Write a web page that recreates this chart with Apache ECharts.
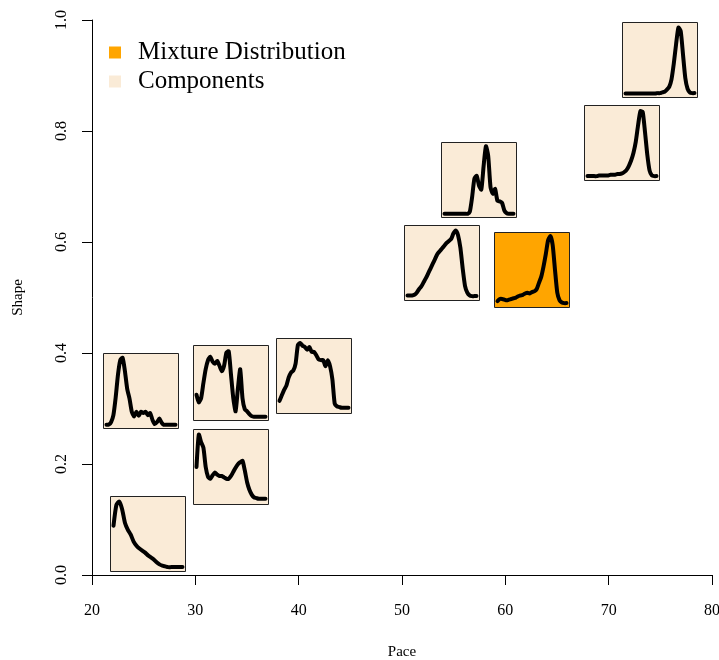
<!DOCTYPE html>
<html>
<head>
<meta charset="utf-8">
<script src="https://cdn.jsdelivr.net/npm/echarts@6/dist/echarts.min.js"></script>
<style>
    html, body { margin: 0; padding: 0; background: #fff; }
    #chart { width: 719px; height: 660px; }
</style>
</head>
<body>
<div id="chart"></div>
<script>
// box centres (Pace, Shape)
let boxPace  = [24.65, 25.39, 33.38, 33.38, 41.41, 57.39, 53.78, 62.51, 71.26, 74.89];
let boxShape = [0.332, 0.075, 0.346, 0.196, 0.359, 0.712, 0.563, 0.550, 0.780, 0.929];
// 1 = mixture distribution, 0 = component
let boxKind  = [0, 0, 0, 0, 0, 0, 0, 1, 0, 0];

// density curves drawn inside each box (scaled 0..1, evenly spaced)
let curveA = [0.01, 0.014, 0.05, 0.15, 0.41, 0.74, 0.95, 0.98, 0.79, 0.53, 0.39, 0.20, 0.13, 0.20, 0.14, 0.20,
    0.18, 0.20, 0.15, 0.18, 0.08, 0.02, 0.05, 0.10, 0.04, 0.01, 0.01, 0.01, 0.01, 0.01, 0.01];
let curveB = [0.62, 0.92, 0.97, 0.86, 0.66, 0.56, 0.49, 0.39, 0.33, 0.29, 0.26, 0.23, 0.19, 0.16, 0.13, 0.09,
    0.06, 0.04, 0.03, 0.02, 0.02, 0.02, 0.02, 0.02, 0.02];
let curveC = [0.33, 0.22, 0.28, 0.50, 0.70, 0.83, 0.88, 0.81, 0.78, 0.82, 0.75, 0.67, 0.75, 0.94, 0.96, 0.62,
    0.28, 0.09, 0.42, 0.70, 0.28, 0.12, 0.09, 0.05, 0.02, 0.01, 0.01, 0.01, 0.01, 0.01, 0.01];
let curveD = [0.50, 0.97, 0.86, 0.78, 0.50, 0.36, 0.33, 0.38, 0.42, 0.39, 0.37, 0.37, 0.35, 0.33, 0.33, 0.37,
    0.43, 0.49, 0.54, 0.57, 0.59, 0.45, 0.28, 0.17, 0.10, 0.06, 0.05, 0.04, 0.04, 0.04, 0.04];
let curveE = [0.14, 0.22, 0.30, 0.36, 0.48, 0.55, 0.58, 0.68, 0.95, 0.98, 0.94, 0.92, 0.88, 0.92, 0.85, 0.85,
    0.80, 0.74, 0.73, 0.73, 0.64, 0.73, 0.64, 0.45, 0.10, 0.06, 0.05, 0.04, 0.04, 0.04, 0.04];
let curveF = [0.01, 0.01, 0.01, 0.01, 0.01, 0.01, 0.01, 0.01, 0.01, 0.01, 0.01, 0.04, 0.25, 0.52, 0.56, 0.42,
    0.36, 0.70, 0.99, 0.85, 0.40, 0.30, 0.37, 0.20, 0.19, 0.17, 0.06, 0.02, 0.01, 0.01, 0.01];
let curveG = [0.03, 0.03, 0.03, 0.04, 0.07, 0.12, 0.16, 0.22, 0.28, 0.35, 0.42, 0.49, 0.56, 0.63, 0.67, 0.71,
    0.75, 0.79, 0.82, 0.85, 0.93, 0.97, 0.90, 0.72, 0.42, 0.17, 0.07, 0.03, 0.02, 0.02, 0.02];
let curveH = [0.05, 0.08, 0.08, 0.07, 0.06, 0.07, 0.08, 0.09, 0.10, 0.12, 0.13, 0.14, 0.16, 0.17, 0.16, 0.18,
    0.19, 0.22, 0.31, 0.40, 0.55, 0.73, 0.93, 0.99, 0.86, 0.50, 0.17, 0.06, 0.03, 0.02, 0.02];
let curveI = [0.02, 0.02, 0.02, 0.02, 0.02, 0.03, 0.03, 0.03, 0.03, 0.03, 0.04, 0.04, 0.04, 0.05, 0.05, 0.06,
    0.08, 0.11, 0.17, 0.25, 0.36, 0.52, 0.76, 0.96, 0.95, 0.66, 0.33, 0.10, 0.03, 0.02, 0.02];
let curveJ = [0.015, 0.015, 0.015, 0.015, 0.015, 0.015, 0.015, 0.015, 0.015, 0.015, 0.015, 0.015, 0.015, 0.015,
    0.02, 0.02, 0.03, 0.04, 0.07, 0.11, 0.22, 0.45, 0.73, 0.97, 0.92, 0.58, 0.24, 0.08, 0.03, 0.02, 0.02];
let curves = [curveA, curveB, curveC, curveD, curveE, curveF, curveG, curveH, curveI, curveJ];

let xTicks = [20, 30, 40, 50, 60, 70, 80];
let yTicks = [0.0, 0.2, 0.4, 0.6, 0.8, 1.0];

let seriesNames = ['Mixture Distribution', 'Components'];
let seriesColors = ['#FFA500', '#FAEBD7'];

let FONT = "'Liberation Serif', 'Times New Roman', serif";
let BOX = 75;   // box size in px
let PAD = 3;    // inner padding of the curve

// 画一个小框 + 密度曲线
let renderBox = (params, api) => {
    let c = api.coord([api.value(0), api.value(1)]);
    let curve = curves[api.value(2)];
    let x0 = Math.round(c[0] - BOX / 2) + 0.5;
    let y0 = Math.round(c[1] - BOX / 2) + 0.5;
    let w = BOX - 2 * PAD;
    let pts = curve.map((v, i) => [
        x0 + PAD + i / (curve.length - 1) * w,
        y0 + BOX - PAD - v * w
    ]);
    return {
        type: 'group',
        children: [{
            type: 'rect',
            shape: { x: x0, y: y0, width: BOX, height: BOX },
            style: { fill: api.visual('color'), stroke: '#222', lineWidth: 1 }
        }, {
            type: 'polyline',
            shape: { points: pts, smooth: 0.2 },
            style: { fill: null, stroke: '#000', lineWidth: 4, lineJoin: 'round', lineCap: 'round' }
        }]
    };
}

let makeData = (kind) => {
    let out = [];
    boxPace.forEach((p, i) => {
        if (boxKind[i] == kind) out.push([p, boxShape[i], i]);
    });
    return out;
}

let chart = echarts.init(document.getElementById('chart'));

let option = {
    animation: false,
    backgroundColor: '#fff',
    textStyle: { fontFamily: FONT },
    // v6: 不要自动收缩网格
    grid: { left: 92, right: 7, top: 20, bottom: 85, containLabel: false, outerBoundsMode: 'none' },
    legend: {
        orient: 'vertical',
        left: 109,
        top: 40,
        padding: 0,
        itemGap: 4,
        itemWidth: 12,
        itemHeight: 12,
        icon: 'rect',
        data: seriesNames,
        textStyle: { fontFamily: FONT, fontSize: 25, color: '#000', padding: [0, 0, 0, 12] }
    },
    xAxis: {
        type: 'value',
        min: xTicks[0],
        max: xTicks[xTicks.length - 1],
        interval: 10,
        name: 'Pace',
        nameLocation: 'middle',
        nameGap: 70,
        nameTextStyle: { fontFamily: FONT, fontSize: 15, color: '#000' },
        axisLine: { show: true, onZero: false, lineStyle: { color: '#000', width: 1 } },
        axisTick: { show: true, inside: false, length: 10, lineStyle: { color: '#000' } },
        axisLabel: { margin: 28, fontFamily: FONT, fontSize: 16, color: '#000' },
        splitLine: { show: false }
    },
    yAxis: {
        type: 'value',
        min: yTicks[0],
        max: yTicks[yTicks.length - 1],
        interval: 0.2,
        name: 'Shape',
        nameLocation: 'middle',
        nameGap: 66,
        nameTextStyle: { fontFamily: FONT, fontSize: 15, color: '#000' },
        axisLine: { show: true, onZero: false, lineStyle: { color: '#000', width: 1 } },
        axisTick: { show: true, inside: false, length: 10, lineStyle: { color: '#000' } },
        axisLabel: {
            rotate: 90, margin: 22, fontFamily: FONT, fontSize: 16, color: '#000',
            formatter: v => v.toFixed(1)
        },
        splitLine: { show: false }
    },
    series: [{
        name: seriesNames[1],
        type: 'custom',
        renderItem: renderBox,
        itemStyle: { color: seriesColors[1] },
        encode: { x: 0, y: 1 },
        data: makeData(0)
    }, {
        name: seriesNames[0],
        type: 'custom',
        renderItem: renderBox,
        itemStyle: { color: seriesColors[0] },
        encode: { x: 0, y: 1 },
        data: makeData(1)
    }]
};

chart.setOption(option);
</script>
</body>
</html>
